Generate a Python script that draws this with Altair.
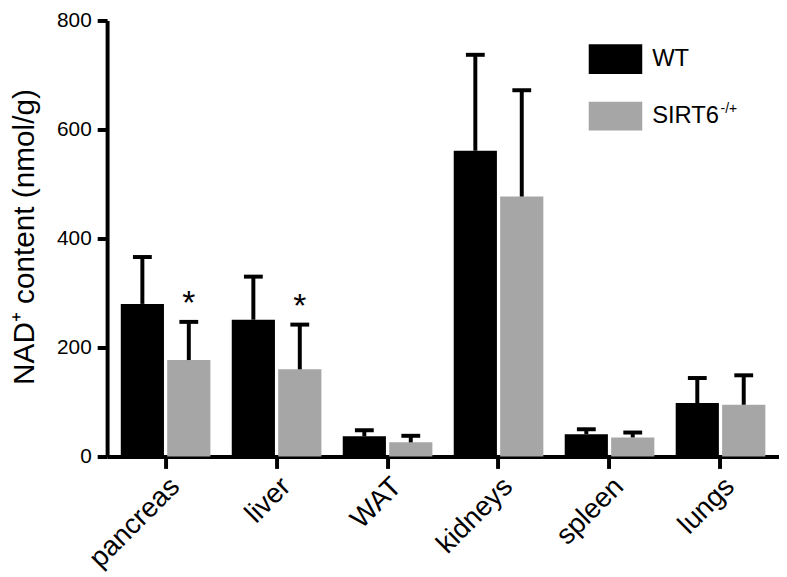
import altair as alt
import pandas as pd

tissues = ["pancreas", "liver", "WAT", "kidneys", "spleen", "lungs"]
groups = ["WT", "SIRT6"]
wt_mean = [280, 251, 37, 561, 41, 98]
wt_upper = [366, 330, 48, 737, 50, 144]
sirt_mean = [177, 160, 26, 477, 35, 95]
sirt_upper = [247, 242, 38, 672, 44, 149]
sirt_sig = ["*", "*", "", "", "", ""]
y_ticks = [0, 200, 400, 600, 800]

rows = []
for i, t in enumerate(tissues):
    rows.append({"tissue": t, "group": "WT", "mean": wt_mean[i], "upper": wt_upper[i], "sig": ""})
    rows.append({"tissue": t, "group": "SIRT6", "mean": sirt_mean[i], "upper": sirt_upper[i], "sig": sirt_sig[i]})
df = pd.DataFrame(rows)

FONT = "Liberation Sans"

x_enc = alt.X(
    "tissue:N", sort=tissues,
    scale=alt.Scale(paddingInner=0, paddingOuter=0.027),
    axis=alt.Axis(
        title=None, labelAngle=-45, labelAlign="right", labelBaseline="top",
        labelFontSize=28, labelFont=FONT, labelColor="black", labelPadding=4,
        domainWidth=4, domainColor="black", tickWidth=4, tickColor="black",
        tickSize=12, grid=False,
    ),
)
xo_enc = alt.XOffset("group:N", sort=groups, scale=alt.Scale(paddingInner=0.07, paddingOuter=0.23))
y_scale = alt.Scale(domain=[0, 800], nice=False)
y_enc = alt.Y(
    "mean:Q", scale=y_scale,
    axis=alt.Axis(
        title="NAD⁺ content (nmol/g)", values=y_ticks, grid=False,
        labelFontSize=21, labelFont=FONT, labelColor="black", labelPadding=6,
        domainWidth=4, domainColor="black", tickWidth=4, tickColor="black", tickSize=10,
        titleFont=FONT, titleFontSize=30, titleFontWeight="normal", titleColor="black",
        titleX=-74, titleY=218, titleBaseline="alphabetic", titleAngle=-90, titleAlign="center",
    ),
)

base = alt.Chart(df)

bars = base.mark_bar().encode(
    x=x_enc, xOffset=xo_enc, y=y_enc,
    color=alt.Color("group:N", scale=alt.Scale(domain=groups, range=["#000000", "#a6a6a6"]), legend=None),
)
rules = base.mark_rule(strokeWidth=4, color="black").encode(
    x=alt.X("tissue:N", sort=tissues), xOffset=alt.XOffset("group:N", sort=groups),
    y=alt.Y("mean:Q", scale=y_scale), y2="upper:Q",
)
caps = base.mark_tick(thickness=4, size=19, color="black", orient="horizontal", opacity=1).encode(
    x=alt.X("tissue:N", sort=tissues), xOffset=alt.XOffset("group:N", sort=groups),
    y=alt.Y("upper:Q", scale=y_scale),
)
stars = base.mark_text(fontSize=34, font=FONT, baseline="alphabetic", dy=-8, color="black").encode(
    x=alt.X("tissue:N", sort=tissues), xOffset=alt.XOffset("group:N", sort=groups),
    y=alt.Y("upper:Q", scale=y_scale), text="sig:N",
)

leg_df = pd.DataFrame({"label": ["WT", "SIRT6"]})
leg = alt.Chart(leg_df)
leg_wt_rect = leg.transform_filter("datum.label == 'WT'").mark_rect(color="#000000").encode(
    x=alt.value(486), x2=alt.value(540), y=alt.value(24), y2=alt.value(54))
leg_s_rect = leg.transform_filter("datum.label == 'SIRT6'").mark_rect(color="#a6a6a6").encode(
    x=alt.value(486), x2=alt.value(540), y=alt.value(82), y2=alt.value(111))
leg_wt_text = leg.transform_filter("datum.label == 'WT'").mark_text(
    fontSize=24, font=FONT, align="left", baseline="middle", color="black").encode(
    x=alt.value(550), y=alt.value(39), text="label:N")
leg_s_text = leg.transform_filter("datum.label == 'SIRT6'").mark_text(
    fontSize=24, font=FONT, align="left", baseline="middle", color="black").encode(
    x=alt.value(550), y=alt.value(96), text="label:N")
leg_sup = leg.transform_filter("datum.label == 'SIRT6'").mark_text(
    fontSize=14, font=FONT, align="left", baseline="middle", color="black").encode(
    x=alt.value(619), y=alt.value(89), text=alt.value("-/+"))

chart = alt.layer(
    bars, rules, caps, stars, leg_wt_rect, leg_s_rect, leg_wt_text, leg_s_text, leg_sup
).properties(
    width=678, height=440,
    autosize=alt.AutoSizeParams(type="none"),
    padding={"left": 100, "top": 10, "right": 0, "bottom": 119},
).configure_view(stroke=None)

chart.save("out.html", embed_options={"renderer": "svg", "actions": False})
